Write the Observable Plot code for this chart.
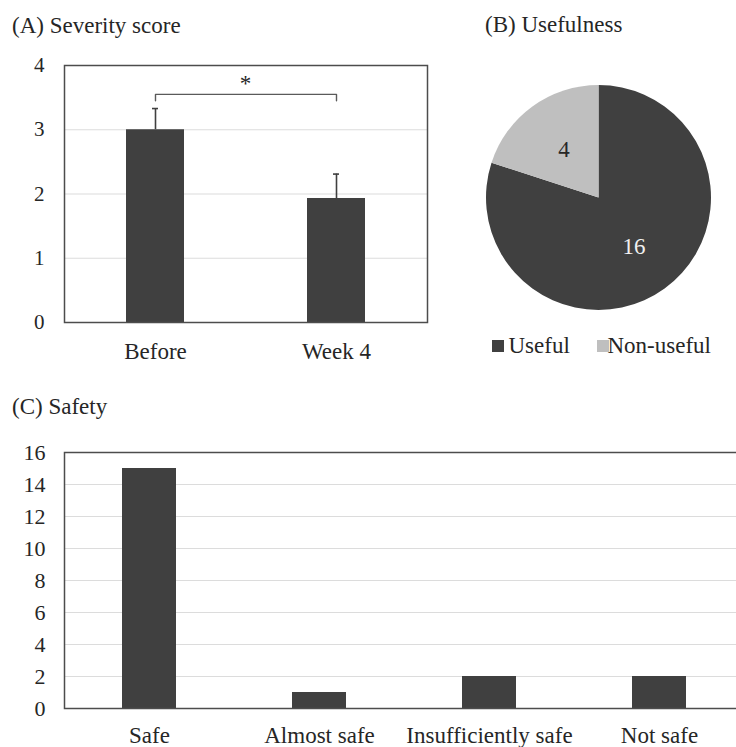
<!DOCTYPE html>
<html>
<head>
<meta charset="utf-8">
<script src="https://cdn.jsdelivr.net/npm/d3@7"></script>
<script src="https://cdn.jsdelivr.net/npm/@observablehq/plot@0.6"></script>
<style>
  @font-face { font-family: "ChartSerif"; src: local("Liberation Serif"), local("LiberationSerif"), local("LiberationSerif-Regular"); }
  html, body { margin: 0; padding: 0; background: #fff; }
  body { width: 736px; height: 747px; overflow: hidden; position: relative; color: #262626; }
  .abs { position: absolute; }
  .title { position: absolute; font-size: 23px; line-height: 1; white-space: nowrap; }
  .swatch { position: absolute; width: 12px; height: 12px; }
</style>
</head>
<body style="font-family:'Liberation Serif', ChartSerif, serif">
<div class="title" style="left:12px; top:13.7px; font-family:'Liberation Serif', ChartSerif, serif">(A) Severity score</div>
<div class="title" style="left:485px; top:12.7px; font-family:'Liberation Serif', ChartSerif, serif">(B) Usefulness</div>
<div class="title" style="left:12px; top:394.7px; font-family:'Liberation Serif', ChartSerif, serif">(C) Safety</div>
<div id="panelA" class="abs" style="left:0; top:0; width:440px"></div>
<div id="panelB" class="abs" style="left:470px; top:60px; width:260px"></div>
<div id="legendB"></div>
<div id="panelC" class="abs" style="left:0; top:380px; width:760px"></div>
<script>
// ---------- data ----------
const severityLabels = ["Before", "Week 4"];
const severityMeans = [3.0, 1.93];
const severityErrors = [0.33, 0.38];
const severityTicks = [0, 1, 2, 3, 4];
const significancePair = ["Before", "Week 4"];
const significanceLevel = 3.55;
const significanceDrop = 0.1;
const significanceMark = "*";

const usefulnessLabels = ["Useful", "Non-useful"];
const usefulnessCounts = [16, 4];

const safetyLabels = ["Safe", "Almost safe", "Insufficiently safe", "Not safe"];
const safetyCounts = [15, 1, 2, 2];
const safetyTicks = [0, 2, 4, 6, 8, 10, 12, 14, 16];

// ---------- styles ----------
const DARK = "#404040";
const LIGHT = "#bfbfbf";
const FRAME = "#4d4d4d";
const GRID = "#dcdcdc";
const TEXT = "#262626";
const FONT = "Liberation Serif, ChartSerif, serif";

function finish(svg, size) {
  svg.setAttribute("font-family", FONT);
  svg.setAttribute("font-size", size);
  svg.style.maxWidth = "none";
  svg.style.overflow = "visible";
  svg.style.background = "transparent";
  svg.style.color = TEXT;
  return svg;
}

function render() {
  // ---------- Panel A ----------
  const severity = severityLabels.map((label, i) => ({label, mean: severityMeans[i], err: severityErrors[i]}));
  const bracket = [
    {x: significancePair[0], y: significanceLevel - significanceDrop},
    {x: significancePair[0], y: significanceLevel},
    {x: significancePair[1], y: significanceLevel},
    {x: significancePair[1], y: significanceLevel - significanceDrop}
  ];
  const plotA = Plot.plot({
    width: 440, height: 375,
    marginLeft: 64, marginRight: 13, marginTop: 65, marginBottom: 53,
    x: {domain: severityLabels, paddingInner: 0.68, paddingOuter: 0.34, label: null},
    y: {domain: [0, 4], label: null},
    marks: [
      Plot.gridY(severityTicks.filter(t => t > 0 && t < 4), {stroke: GRID, strokeOpacity: 1, strokeWidth: 1.2}),
      Plot.barY(severity, {x: "label", y: "mean", fill: DARK}),
      Plot.ruleX(severity, {x: "label", y1: "mean", y2: d => d.mean + d.err, stroke: DARK, strokeWidth: 1.6}),
      Plot.tickY(severity, {x: "label", y: d => d.mean + d.err, stroke: DARK, strokeWidth: 1.6, insetLeft: 26, insetRight: 26}),
      Plot.line(bracket, {x: "x", y: "y", stroke: "#5a5a5a", strokeWidth: 1.4}),
      Plot.text([significanceMark], {x: () => significancePair[0], y: () => significanceLevel + 0.17, text: d => d, dx: 90, fontSize: 23, fontFamily: FONT, fill: TEXT}),
      Plot.frame({stroke: FRAME, strokeWidth: 1.5}),
      Plot.axisY({ticks: severityTicks, tickSize: 0, tickPadding: 20, tickFormat: d => String(d), fontFamily: FONT, fontSize: 21, fill: TEXT}),
      Plot.axisX({tickSize: 0, tickPadding: 20, fontFamily: FONT, fontSize: 23, fill: TEXT})
    ]
  });
  document.getElementById("panelA").replaceChildren(finish(plotA, 21));

  // ---------- Panel B ----------
  const pieColors = [DARK, LIGHT];
  const pieLabelColors = ["#f0f0f0", TEXT];
  const arcs = d3.pie().sort(null)(usefulnessCounts);
  const pieLabels = arcs.map((a, i) => {
    const mid = (a.startAngle + a.endAngle) / 2;
    return {x: 0.53 * Math.sin(mid), y: 0.53 * Math.cos(mid), text: String(usefulnessCounts[i]), color: pieLabelColors[i]};
  });
  function pieSlices(index, scales) {
    const cx = scales.x(0), cy = scales.y(0), r = scales.x(1) - scales.x(0);
    const arc = d3.arc().innerRadius(0).outerRadius(r);
    const g = d3.create("svg:g").attr("transform", `translate(${cx},${cy})`);
    g.selectAll("path").data(arcs).join("path")
      .attr("d", arc)
      .attr("fill", (d, i) => pieColors[i]);
    return g.node();
  }
  const plotB = Plot.plot({
    width: 260, height: 260,
    marginLeft: 16, marginRight: 19, marginTop: 25, marginBottom: 10,
    x: {domain: [-1, 1], axis: null},
    y: {domain: [-1, 1], axis: null},
    marks: [
      pieSlices,
      Plot.text(pieLabels, {x: "x", y: "y", text: "text", fill: "color", fontSize: 23, fontFamily: FONT})
    ]
  });
  document.getElementById("panelB").replaceChildren(finish(plotB, 23));

  // legend
  const legendPos = [{sw: 491.5, tx: 508.5}, {sw: 597, tx: 607.5}];
  const legend = document.getElementById("legendB");
  legend.replaceChildren();
  usefulnessLabels.forEach((lab, i) => {
    const s = document.createElement("div");
    s.className = "swatch";
    s.style.left = legendPos[i].sw + "px";
    s.style.top = "340px";
    s.style.background = pieColors[i];
    legend.append(s);
    const t = document.createElement("div");
    t.className = "title";
    t.style.fontFamily = "'Liberation Serif', ChartSerif, serif";
    t.style.left = legendPos[i].tx + "px";
    t.style.top = "333.7px";
    t.textContent = lab;
    legend.append(t);
  });

  // ---------- Panel C ----------
  const safety = safetyLabels.map((label, i) => ({label, count: safetyCounts[i]}));
  const plotC = Plot.plot({
    width: 760, height: 367,
    marginLeft: 64, marginRight: 15, marginTop: 72, marginBottom: 39,
    x: {domain: safetyLabels, paddingInner: 0.68, paddingOuter: 0.34, label: null},
    y: {domain: [0, 16], label: null},
    marks: [
      Plot.gridY(safetyTicks.filter(t => t > 0 && t < 16), {stroke: GRID, strokeOpacity: 1, strokeWidth: 1.2}),
      Plot.barY(safety, {x: "label", y: "count", fill: DARK}),
      Plot.frame({stroke: FRAME, strokeWidth: 1.5}),
      Plot.axisY({ticks: safetyTicks, tickSize: 0, tickPadding: 19, tickFormat: d => String(d), fontFamily: FONT, fontSize: 22, fill: TEXT}),
      Plot.axisX({tickSize: 0, tickPadding: 18, fontFamily: FONT, fontSize: 23, fill: TEXT})
    ]
  });
  document.getElementById("panelC").replaceChildren(finish(plotC, 22));
}

render();
// re-render once the serif face is confirmed loaded, and force a late relayout
const fontReady = document.fonts && document.fonts.load
  ? Promise.all([document.fonts.load("23px 'Liberation Serif'"), document.fonts.load("23px ChartSerif")])
  : Promise.resolve();
fontReady.then(() => render()).catch(() => {});
setTimeout(() => { render(); document.body.style.opacity = "1"; }, 300);
</script>
</body>
</html>
